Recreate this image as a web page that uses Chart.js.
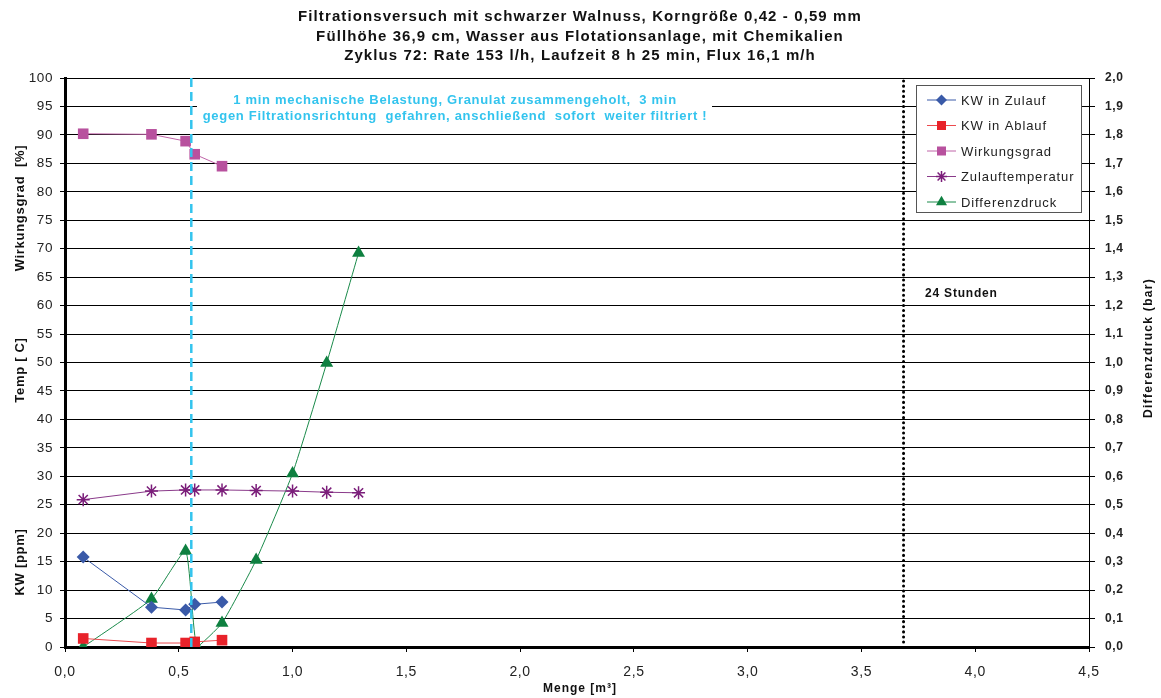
<!DOCTYPE html>
<html lang="de">
<head>
<meta charset="utf-8">
<title>Filtrationsversuch Zyklus 72</title>
<script src="https://cdn.jsdelivr.net/npm/chart.js@4.4.1/dist/chart.umd.min.js"></script>
<style>
  html, body { margin: 0; padding: 0; background: #fff; }
  #wrap { width: 1161px; height: 698px; }
</style>
</head>
<body>
<div id="wrap"><canvas id="chart" width="1161" height="698"></canvas></div>
<script>
/* Filtrationsversuch Zyklus 72 */

const titleLines = [
  "Filtrationsversuch mit schwarzer Walnuss, Korngröße 0,42 - 0,59 mm",
  "Füllhöhe 36,9 cm, Wasser aus Flotationsanlage, mit Chemikalien",
  "Zyklus 72: Rate 153 l/h, Laufzeit 8 h 25 min, Flux 16,1 m/h",
];
const noteLines = [
  "1 min mechanische Belastung, Granulat zusammengeholt,  3 min",
  "gegen Filtrationsrichtung  gefahren, anschließend  sofort  weiter filtriert !",
];

// Menge [m³]
const mengeKW = [0.08, 0.38, 0.53, 0.57, 0.69];
const mengeTemp = [0.08, 0.38, 0.53, 0.57, 0.69, 0.84, 1.0, 1.15, 1.29];
const mengeDruck = [0.08, 0.38, 0.53, 0.58, 0.69, 0.84, 1.0, 1.15, 1.29];

const kwZulauf = [15.8, 7.0, 6.5, 7.5, 7.9];
const kwAblauf = [1.5, 0.7, 0.7, 0.9, 1.2];
const wirkungsgrad = [90.2, 90.1, 88.9, 86.6, 84.5];
const zulauftemperatur = [25.9, 27.4, 27.6, 27.6, 27.6, 27.5, 27.4, 27.2, 27.1];
const differenzdruck = [0.0, 0.169, 0.337, 0.0, 0.084, 0.306, 0.61, 0.998, 1.385];

const eingriffMenge = 0.555; // mechanische Belastung
const stundenMenge = 3.685;  // 24 Stunden

const FONT = "'Liberation Sans', Arial, sans-serif";

function pts(xs, ys) {
  return xs.map((x, i) => ({ x, y: ys[i] }));
}

function comma(v) {
  return Number(v).toFixed(1).replace(".", ",");
}

const series = [
  { label: "KW in Zulauf", data: pts(mengeKW, kwZulauf), color: "#3a5aa8", line: "#3a5aa8", style: "rectRot", r: 6.5, axis: "y" },
  { label: "KW in Ablauf", data: pts(mengeKW, kwAblauf), color: "#e8222a", line: "#ec4a4e", style: "rect", r: 7.5, axis: "y" },
  { label: "Wirkungsgrad", data: pts(mengeKW, wirkungsgrad), color: "#b8519e", line: "#c064a8", style: "rect", r: 7.5, axis: "y" },
  { label: "Zulauftemperatur", data: pts(mengeTemp, zulauftemperatur), color: "#7b1e7a", line: "#8a3a8a", style: "star", r: 6.5, axis: "y" },
  { label: "Differenzdruck", data: pts(mengeDruck, differenzdruck), color: "#0e8040", line: "#1a8a4a", style: "triangle", r: 7.5, axis: "y2" },
];

function drawMarker(ctx, style, x, y, r, color) {
  ctx.save();
  ctx.fillStyle = color;
  ctx.strokeStyle = color;
  ctx.lineWidth = 1.5;
  ctx.beginPath();
  if (style === "rectRot") {
    ctx.moveTo(x, y - r); ctx.lineTo(x + r, y); ctx.lineTo(x, y + r); ctx.lineTo(x - r, y);
    ctx.closePath(); ctx.fill();
  } else if (style === "rect") {
    const s = r * Math.SQRT1_2;
    ctx.rect(x - s, y - s, 2 * s, 2 * s); ctx.fill();
  } else if (style === "triangle") {
    ctx.moveTo(x, y - r); ctx.lineTo(x + r * 0.866, y + r * 0.5); ctx.lineTo(x - r * 0.866, y + r * 0.5);
    ctx.closePath(); ctx.fill();
  } else {
    for (let a = 0; a < 4; a++) {
      const ang = a * Math.PI / 4;
      ctx.moveTo(x - r * Math.cos(ang), y - r * Math.sin(ang));
      ctx.lineTo(x + r * Math.cos(ang), y + r * Math.sin(ang));
    }
    ctx.stroke();
  }
  ctx.restore();
}

const overlay = {
  id: "overlay",
  beforeDraw(chart) {
    chart.ctx.letterSpacing = "0.6px";
  },
  beforeDatasetsDraw(chart) {
    const ctx = chart.ctx;
    ctx.save();
    // Hinweis-Kasten
    ctx.fillStyle = "#ffffff";
    ctx.fillRect(197, 91, 515, 34);
    ctx.fillStyle = "#33c4ee";
    ctx.font = "bold 13px " + FONT;
    ctx.letterSpacing = "0.7px";
    ctx.textAlign = "center";
    ctx.textBaseline = "middle";
    ctx.fillText(noteLines[0], 455, 100);
    ctx.fillText(noteLines[1], 455, 116);
    ctx.restore();
  },
  afterDatasetsDraw(chart) {
    const ctx = chart.ctx;
    const x = chart.scales.x;
    const area = chart.chartArea;
    ctx.save();
    // senkrechte Linie: Eingriff
    const xe = x.getPixelForValue(eingriffMenge);
    ctx.strokeStyle = "#33c4ee";
    ctx.lineWidth = 2.5;
    ctx.setLineDash([9, 5]);
    ctx.beginPath();
    ctx.moveTo(xe, area.top);
    ctx.lineTo(xe, area.bottom);
    ctx.stroke();
    // senkrechte Linie: 24 Stunden
    const xs = x.getPixelForValue(stundenMenge);
    ctx.strokeStyle = "#000";
    ctx.lineWidth = 3;
    ctx.lineCap = "round";
    ctx.setLineDash([0.1, 5]);
    ctx.beginPath();
    ctx.moveTo(xs, area.top + 3);
    ctx.lineTo(xs, area.bottom);
    ctx.stroke();
    ctx.setLineDash([]);
    ctx.lineCap = "butt";

    ctx.fillStyle = "#111";
    ctx.font = "bold 12px " + FONT;
    ctx.letterSpacing = "0.8px";
    ctx.textAlign = "left";
    ctx.textBaseline = "middle";
    ctx.fillText("24 Stunden", 925, 294);

    // Legende
    const lx = 916, ly = 85, lw = 165, lh = 127;
    ctx.fillStyle = "#fff";
    ctx.fillRect(lx, ly, lw, lh);
    ctx.strokeStyle = "#555";
    ctx.lineWidth = 1;
    ctx.strokeRect(lx + 0.5, ly + 0.5, lw, lh);
    ctx.font = "13px " + FONT;
    ctx.letterSpacing = "0.9px";
    series.forEach((s, i) => {
      const yy = ly + 15 + i * 25.5;
      ctx.strokeStyle = s.line;
      ctx.lineWidth = 1;
      ctx.beginPath();
      ctx.moveTo(927, yy);
      ctx.lineTo(956, yy);
      ctx.stroke();
      drawMarker(ctx, s.style, 941.5, yy, s.r * 0.85, s.color);
      ctx.fillStyle = "#222";
      ctx.fillText(s.label, 961, yy + 1);
    });
    ctx.restore();
  },
  afterDraw(chart) {
    const ctx = chart.ctx;
    ctx.save();
    ctx.fillStyle = "#111";
    ctx.textAlign = "center";
    ctx.textBaseline = "alphabetic";
    ctx.font = "bold 15px " + FONT;
    ctx.letterSpacing = "1.1px";
    titleLines.forEach((t, i) => ctx.fillText(t, 580, 21 + i * 19.5));

    ctx.textBaseline = "middle";
    ctx.font = "bold 12px " + FONT;
    ctx.letterSpacing = "1px";
    ctx.fillText("Menge [m³]", 580, 689);

    const vtext = (t, x, y) => {
      ctx.save();
      ctx.translate(x, y);
      ctx.rotate(-Math.PI / 2);
      ctx.fillText(t, 0, 0);
      ctx.restore();
    };
    ctx.font = "bold 13px " + FONT;
    ctx.letterSpacing = "0.7px";
    vtext("Wirkungsgrad  [%]", 20, 208);
    vtext("Temp [ C]", 20, 370);
    vtext("KW [ppm]", 20, 562);
    ctx.font = "bold 12px " + FONT;
    ctx.letterSpacing = "1.3px";
    vtext("Differenzdruck (bar)", 1149, 348);
    ctx.restore();
  },
};

const datasets = series.map((s) => ({
  label: s.label,
  data: s.data,
  yAxisID: s.axis,
  showLine: true,
  borderColor: s.line,
  borderWidth: 1,
  backgroundColor: s.color,
  pointStyle: s.style,
  pointRadius: s.r,
  pointBorderColor: s.color,
  pointBorderWidth: s.style === "star" ? 1.5 : 0,
  pointBackgroundColor: s.color,
  tension: s.axis === "y2" ? 0.15 : 0,
}));

new Chart(document.getElementById("chart"), {
  type: "scatter",
  data: { datasets },
  plugins: [overlay],
  options: {
    responsive: false,
    animation: false,
    layout: { padding: { top: 78, left: 0, right: 0, bottom: 0 } },
    plugins: { legend: { display: false }, tooltip: { enabled: false }, title: { display: false } },
    scales: {
      x: {
        type: "linear",
        min: 0,
        max: 4.5,
        afterFit: (s) => { s.height = 51; },
        ticks: { stepSize: 0.5, callback: (v) => comma(v), color: "#222", font: { family: FONT, size: 14 }, padding: 12, maxRotation: 0 },
        grid: { drawOnChartArea: false, drawTicks: true, tickLength: 5, color: "#000" },
        border: { color: "#000", width: 3 },
      },
      y: {
        position: "left",
        min: 0,
        max: 100,
        afterFit: (s) => { s.width = 65; },
        ticks: { stepSize: 5, color: "#222", font: { family: FONT, size: 13.5 }, padding: 7 },
        grid: { color: "#000", lineWidth: 1, tickLength: 5 },
        border: { color: "#000", width: 3 },
      },
      y2: {
        position: "right",
        min: 0,
        max: 2,
        afterFit: (s) => { s.width = 72; },
        ticks: { stepSize: 0.1, callback: (v) => comma(v), color: "#222", font: { family: FONT, size: 12, weight: "bold" }, padding: 10 },
        grid: { drawOnChartArea: false, color: "#000", tickLength: 6 },
        border: { color: "#000", width: 1 },
      },
    },
  },
});
</script>
</body>
</html>
